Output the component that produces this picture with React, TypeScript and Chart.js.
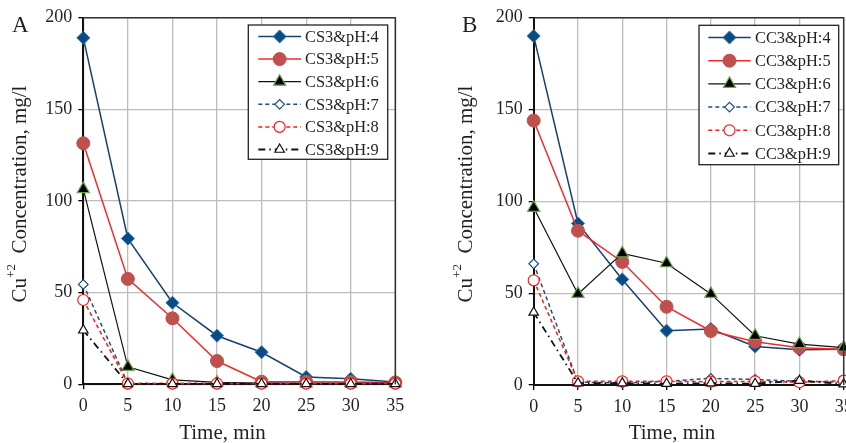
import React, { useEffect, useRef } from 'react';
import { Chart, registerables } from 'chart.js';

Chart.register(...registerables);

// ---------- data ----------
const times = [0, 5, 10, 15, 20, 25, 30, 35];
const xMin = 0;
const xMax = 35;
const xStep = 5;
const yMin = 0;
const yMax = 200;
const yStep = 50;

const csLabels = ['CS3&pH:4', 'CS3&pH:5', 'CS3&pH:6', 'CS3&pH:7', 'CS3&pH:8', 'CS3&pH:9'];
const ccLabels = ['CC3&pH:4', 'CC3&pH:5', 'CC3&pH:6', 'CC3&pH:7', 'CC3&pH:8', 'CC3&pH:9'];

const csPH4 = [189, 79.5, 44.5, 26.5, 17.5, 4, 3, 1.3];
const csPH5 = [131.5, 57.5, 36, 12.7, 1.4, 1.4, 1.2, 1];
const csPH6 = [106.5, 9.5, 2.4, 1, 0.6, 0.5, 0.5, 0.5];
const csPH7 = [54.5, 0.4, 0.4, 0.4, 0.4, 0.4, 0.4, 0.4];
const csPH8 = [46, 0.4, 0.4, 0.4, 0.4, 0.4, 0.4, 0.4];
const csPH9 = [29.5, 0.2, 0.2, 0.2, 0.2, 0.2, 0.2, 0.2];

const ccPH4 = [190, 88, 57.5, 29.6, 30.5, 21, 19.2, 19.5];
const ccPH5 = [144, 84, 67, 42.6, 29.4, 23.6, 20.3, 19.4];
const ccPH6 = [96.5, 49.6, 71.7, 66.3, 49.6, 26.8, 22.3, 20.3];
const ccPH7 = [66, 1.6, 1, 2, 3.6, 3, 2, 1.6];
const ccPH8 = [57, 2, 2, 2, 1.8, 2, 1.5, 2.4];
const ccPH9 = [39.5, 1, 1, 0.7, 1, 0.7, 2.4, 0.5];

const yTitleMain = 'Cu';
const yTitleSup = '+2';
const yTitleRest = '  Concentration, mg/l';
const xTitle = 'Time, min';

// ---------- styles ----------
const FONT = "'Liberation Serif', 'Times New Roman', serif";
const TEXT = '#231f20';

type SeriesStyle = {
  line: string;
  width: number;
  dash: number[];
  point: string;
  radius: number;
  fill: string;
  stroke: string;
  pw: number;
};

const seriesStyles: SeriesStyle[] = [
  { line: '#16406e', width: 1.5, dash: [], point: 'rectRot', radius: 6.5, fill: '#0b4a82', stroke: '#2a74b8', pw: 1 },
  { line: '#f22b2b', width: 1.5, dash: [], point: 'circle', radius: 6.5, fill: '#c0504d', stroke: '#c0504d', pw: 1 },
  { line: '#111111', width: 1.2, dash: [], point: 'triangle', radius: 7, fill: '#000000', stroke: '#6aa84f', pw: 1.2 },
  { line: '#1f4e79', width: 1.5, dash: [4, 3], point: 'rectRot', radius: 4.8, fill: '#ffffff', stroke: '#1f4e79', pw: 1.2 },
  { line: '#ff1a1a', width: 1.5, dash: [4, 3], point: 'circle', radius: 5.5, fill: '#ffffff', stroke: '#ff1a1a', pw: 1.2 },
  { line: '#111111', width: 1.8, dash: [7, 4, 1.5, 4], point: 'triangle', radius: 5.5, fill: '#ffffff', stroke: '#111111', pw: 1.2 },
];

type PanelLayout = {
  canvasLeft: number;
  canvasWidth: number;
  height: number;
  left: number;
  right: number;
  top: number;
  bottom: number;
  legendBox: [number, number, number, number];
  legendRow0: number;
  legendRowStep: number;
  legendLineX0: number;
  legendLineX1: number;
  legendTextX: number;
  letter: string;
  letterX: number;
  letterY: number;
  yTitleX: number;
  yTitleY: number;
  xTitleX: number;
  xTitleY: number;
};

const layoutA: PanelLayout = {
  canvasLeft: 0,
  canvasWidth: 423,
  height: 443,
  left: 83.3,
  right: 395.3,
  top: 17.7,
  bottom: 384.3,
  legendBox: [248.3, 25, 387.7, 159.3],
  legendRow0: 36.5,
  legendRowStep: 22.6,
  legendLineX0: 258.3,
  legendLineX1: 301,
  legendTextX: 305,
  letter: 'A',
  letterX: 12,
  letterY: 32,
  yTitleX: 20,
  yTitleY: 194,
  xTitleX: 222.5,
  xTitleY: 433,
};

const layoutB: PanelLayout = {
  canvasLeft: 423,
  canvasWidth: 450,
  height: 443,
  left: 110.7,
  right: 420.7,
  top: 17.7,
  bottom: 385,
  legendBox: [276, 25.3, 415.7, 164.7],
  legendRow0: 37.5,
  legendRowStep: 23.2,
  legendLineX0: 285.3,
  legendLineX1: 327.7,
  legendTextX: 332,
  letter: 'B',
  letterX: 39,
  letterY: 32,
  yTitleX: 43,
  yTitleY: 194,
  xTitleX: 249,
  xTitleY: 433,
};

function drawMarker(ctx: CanvasRenderingContext2D, s: SeriesStyle, x: number, y: number) {
  const r = s.radius;
  ctx.save();
  ctx.setLineDash([]);
  ctx.beginPath();
  if (s.point === 'circle') {
    ctx.arc(x, y, r, 0, Math.PI * 2);
  } else if (s.point === 'rectRot') {
    ctx.moveTo(x - r, y);
    ctx.lineTo(x, y - r);
    ctx.lineTo(x + r, y);
    ctx.lineTo(x, y + r);
    ctx.closePath();
  } else {
    ctx.moveTo(x, y - r);
    ctx.lineTo(x + 0.866 * r, y + 0.5 * r);
    ctx.lineTo(x - 0.866 * r, y + 0.5 * r);
    ctx.closePath();
  }
  ctx.fillStyle = s.fill;
  ctx.fill();
  ctx.lineWidth = s.pw;
  ctx.strokeStyle = s.stroke;
  ctx.stroke();
  ctx.restore();
}

function makeDecor(L: PanelLayout, labels: string[]) {
  return {
    id: 'decor' + L.letter,
    afterDraw(chart: any) {
      const ctx: CanvasRenderingContext2D = chart.ctx;
      const ca = chart.chartArea;
      ctx.save();
      // plot frame top/right
      ctx.strokeStyle = '#333333';
      ctx.lineWidth = 1.5;
      ctx.beginPath();
      ctx.moveTo(ca.left, ca.top);
      ctx.lineTo(ca.right, ca.top);
      ctx.lineTo(ca.right, ca.bottom);
      ctx.stroke();

      // legend
      const [bx0, by0, bx1, by1] = L.legendBox;
      ctx.fillStyle = '#ffffff';
      ctx.fillRect(bx0, by0, bx1 - bx0, by1 - by0);
      ctx.strokeStyle = '#222222';
      ctx.lineWidth = 1.3;
      ctx.strokeRect(bx0, by0, bx1 - bx0, by1 - by0);
      labels.forEach((lab, i) => {
        const s = seriesStyles[i];
        const y = L.legendRow0 + i * L.legendRowStep;
        ctx.save();
        ctx.strokeStyle = s.line;
        ctx.lineWidth = s.width;
        ctx.setLineDash(s.dash);
        ctx.beginPath();
        ctx.moveTo(L.legendLineX0, y);
        ctx.lineTo(L.legendLineX1, y);
        ctx.stroke();
        ctx.restore();
        drawMarker(ctx, s, (L.legendLineX0 + L.legendLineX1) / 2, y);
        ctx.fillStyle = TEXT;
        ctx.font = `16.4px ${FONT}`;
        ctx.textAlign = 'left';
        ctx.textBaseline = 'middle';
        ctx.fillText(lab, L.legendTextX, y + 1);
      });

      // panel letter
      ctx.fillStyle = TEXT;
      ctx.font = `23px ${FONT}`;
      ctx.textAlign = 'left';
      ctx.textBaseline = 'alphabetic';
      ctx.fillText(L.letter, L.letterX, L.letterY);

      // x title
      ctx.font = `21px ${FONT}`;
      ctx.textAlign = 'center';
      ctx.textBaseline = 'middle';
      ctx.fillText(xTitle, L.xTitleX, L.xTitleY);

      // y title (rotated) with superscript
      ctx.save();
      ctx.translate(L.yTitleX, L.yTitleY);
      ctx.rotate(-Math.PI / 2);
      ctx.textAlign = 'left';
      ctx.textBaseline = 'middle';
      ctx.font = `21px ${FONT}`;
      const w1 = ctx.measureText(yTitleMain).width;
      const w3 = ctx.measureText(yTitleRest).width;
      ctx.font = `13px ${FONT}`;
      const w2 = ctx.measureText(yTitleSup).width;
      const total = w1 + w2 + w3;
      let x = -total / 2;
      ctx.font = `21px ${FONT}`;
      ctx.fillText(yTitleMain, x, 0);
      x += w1;
      ctx.font = `13px ${FONT}`;
      ctx.fillText(yTitleSup, x, -8);
      x += w2;
      ctx.font = `21px ${FONT}`;
      ctx.fillText(yTitleRest, x, 0);
      ctx.restore();

      ctx.restore();
    },
  };
}

function Panel({ L, labels, series }: { L: PanelLayout; labels: string[]; series: number[][] }) {
  const ref = useRef<HTMLCanvasElement | null>(null);
  useEffect(() => {
    if (!ref.current) return;
    const datasets = series.map((vals, i) => {
      const s = seriesStyles[i];
      return {
        label: labels[i],
        data: times.map((t, j) => ({ x: t, y: vals[j] })),
        borderColor: s.line,
        borderWidth: s.width,
        borderDash: s.dash,
        pointStyle: s.point,
        pointRadius: s.radius,
        pointBackgroundColor: s.fill,
        pointBorderColor: s.stroke,
        pointBorderWidth: s.pw,
        backgroundColor: s.fill,
        tension: 0,
        fill: false,
        clip: false as any,
        order: series.length - i,
      };
    });
    const tickFont = { family: FONT, size: 18 };
    const chart = new Chart(ref.current, {
      type: 'line',
      data: { datasets },
      options: {
        animation: false,
        responsive: false,
        maintainAspectRatio: false,
        layout: { padding: { top: L.top, right: L.canvasWidth - L.right, left: 0, bottom: 0 } },
        plugins: { legend: { display: false }, tooltip: { enabled: false } },
        scales: {
          x: {
            type: 'linear',
            min: xMin,
            max: xMax,
            ticks: { stepSize: xStep, font: tickFont, color: TEXT, padding: 6 },
            grid: { color: '#bdbdbd', lineWidth: 1.3, tickLength: 5, tickColor: '#000', tickWidth: 1.3 },
            border: { color: '#111', width: 2 },
            afterFit: (s: any) => {
              s.height = L.height - L.bottom;
            },
          },
          y: {
            type: 'linear',
            min: yMin,
            max: yMax,
            ticks: { stepSize: yStep, font: tickFont, color: TEXT, padding: 6 },
            grid: { color: '#bdbdbd', lineWidth: 1.3, tickLength: 5, tickColor: '#000', tickWidth: 1.3 },
            border: { color: '#111', width: 2 },
            afterFit: (s: any) => {
              s.width = L.left;
            },
          },
        },
      } as any,
      plugins: [makeDecor(L, labels)],
    });
    return () => chart.destroy();
  }, []);
  return (
    <canvas
      ref={ref}
      width={L.canvasWidth}
      height={L.height}
      style={{ position: 'absolute', left: L.canvasLeft, top: 0, width: L.canvasWidth, height: L.height }}
    />
  );
}

export default function App() {
  return (
    <div
      style={{
        position: 'absolute',
        left: 0,
        top: 0,
        width: 846,
        height: 443,
        overflow: 'hidden',
        background: '#ffffff',
      }}
    >
      <Panel L={layoutA} labels={csLabels} series={[csPH4, csPH5, csPH6, csPH7, csPH8, csPH9]} />
      <Panel L={layoutB} labels={ccLabels} series={[ccPH4, ccPH5, ccPH6, ccPH7, ccPH8, ccPH9]} />
    </div>
  );
}
